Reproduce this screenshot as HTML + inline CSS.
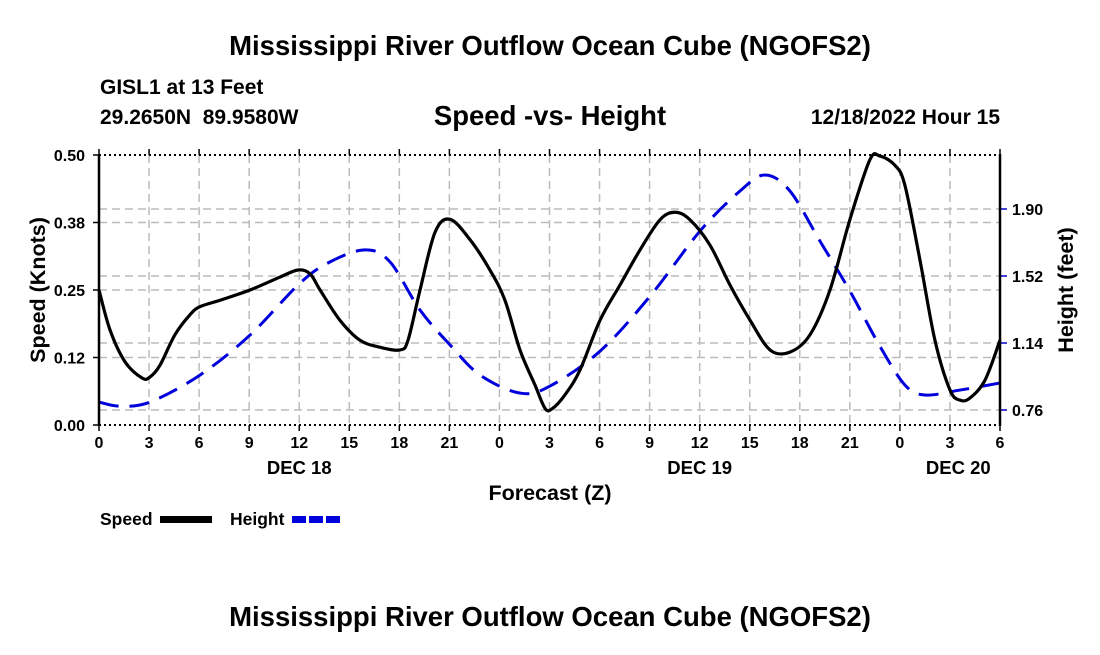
<!DOCTYPE html>
<html><head><meta charset="utf-8"><style>
body{margin:0;background:#fff;}
svg text{font-family:"Liberation Sans",sans-serif;font-weight:bold;fill:#000;white-space:pre;}
</style></head><body>
<svg width="1100" height="650" viewBox="0 0 1100 650">
<text x="550" y="55" font-size="27.5" text-anchor="middle">Mississippi River Outflow Ocean Cube (NGOFS2)</text>
<text x="100" y="94" font-size="21">GISL1 at 13 Feet</text>
<text x="100" y="124" font-size="21" xml:space="preserve">29.2650N  89.9580W</text>
<text x="550" y="125" font-size="27.5" text-anchor="middle">Speed -vs- Height</text>
<text x="1000" y="124" font-size="21" text-anchor="end">12/18/2022 Hour 15</text>
<g id="grid"></g>
<g id="series"></g>
<g id="axes"></g>
<text transform="translate(45,290) rotate(-90)" font-size="21.5" text-anchor="middle">Speed (Knots)</text>
<text transform="translate(1073,290) rotate(-90)" font-size="21.5" text-anchor="middle">Height (feet)</text>
<text x="550" y="500" font-size="21.5" text-anchor="middle">Forecast (Z)</text>
<g>
<text x="100" y="525" font-size="17.5">Speed</text>
<rect x="160" y="516" width="52" height="7" fill="#000"/>
<text x="230" y="525" font-size="17.5">Height</text>
<line x1="292" y1="519.5" x2="343" y2="519.5" stroke="#0000dd" stroke-width="7" stroke-dasharray="14,3"/>
</g>
<text x="550" y="626" font-size="27.5" text-anchor="middle">Mississippi River Outflow Ocean Cube (NGOFS2)</text>
</svg>
<script>
const xTickLabels=["0","3","6","9","12","15","18","21","0","3","6","9","12","15","18","21","0","3","6"];
const dayLabels=["DEC 18","DEC 19","DEC 20"];
const dayHours=[12,36,51.5];
const speedTicks=[0,0.125,0.25,0.375,0.5];
const speedTickLabels=["0.00","0.12","0.25","0.38","0.50"];
const heightTicks=[0.76,1.14,1.52,1.90];
const speedHours=[0,0.66,1.56,2.58,3.06,3.66,4.55,5.45,6.05,7.25,9.05,10.85,11.93,12.65,13.25,14.44,15.64,16.84,18.04,18.52,19.24,20.14,21.04,22.24,23.43,24.33,25.23,26.13,26.73,27.15,27.93,28.83,30.03,31.22,32.42,33.62,34.52,35.42,36.62,37.82,39.02,40.22,41.41,42.61,43.81,45.0,46.2,46.8,47.7,48.3,49.2,50.1,51.0,51.6,52.2,53.1,54];
const speedValues=[0.25,0.176,0.117,0.087,0.089,0.111,0.167,0.204,0.219,0.231,0.25,0.274,0.287,0.28,0.25,0.194,0.157,0.144,0.139,0.157,0.25,0.357,0.381,0.343,0.287,0.231,0.139,0.074,0.031,0.03,0.056,0.102,0.194,0.259,0.324,0.38,0.394,0.38,0.333,0.259,0.194,0.139,0.135,0.167,0.25,0.38,0.491,0.498,0.481,0.444,0.306,0.157,0.065,0.046,0.05,0.083,0.157];
const heightHours=[0,1.26,3.06,6.05,9.05,12.05,13.85,15.95,17.44,19.24,21.04,22.84,25.23,27.03,30.03,33.03,36.02,38.42,39.91,41.41,43.21,45.0,46.8,48.3,49.5,51.6,54];
const heightValues=[0.805,0.782,0.805,0.958,1.185,1.48,1.6,1.668,1.6,1.327,1.129,0.958,0.856,0.896,1.094,1.406,1.775,2.002,2.093,2.002,1.718,1.435,1.122,0.902,0.845,0.873,0.913];

const L=99,R=1000,T=155,B=425,NS="http://www.w3.org/2000/svg";
const xS=h=>L+h*(R-L)/54;
const yS=v=>B-v*(B-T)/0.5;
const yH=h=>410-(h-0.76)*67/0.38;
function mk(tag,attrs,parent,txt){const e=document.createElementNS(NS,tag);for(const k in attrs)e.setAttribute(k,attrs[k]);if(txt!==undefined)e.textContent=txt;parent.appendChild(e);return e;}
const grid=document.getElementById('grid'),axes=document.getElementById('axes'),series=document.getElementById('series');
xTickLabels.forEach((lab,i)=>{const x=xS(i*3);
 if(i>0&&i<18){const g=mk('line',{x1:x,y1:T,x2:x,y2:B,stroke:'#bbb','stroke-width':1.5,'stroke-dasharray':'8,5'},grid);
 
 }
 const t=mk('text',{x:x,y:B+23,'font-size':16,'text-anchor':'middle'},axes,lab);
 
 
 mk('line',{x1:x,y1:B,x2:x,y2:B+6,stroke:'#000','stroke-width':1.5},axes);
 mk('line',{x1:x,y1:T,x2:x,y2:T-6,stroke:'#000','stroke-width':1.5},axes);
});
dayLabels.forEach((lab,i)=>{const t=mk('text',{x:xS(dayHours[i]),y:B+49,'font-size':18.5,'text-anchor':'middle'},axes,lab);
 
 });
speedTicks.forEach((v,i)=>{const y=yS(v);
 if(i>0&&i<4){const g=mk('line',{x1:L,y1:y,x2:R,y2:y,stroke:'#bbb','stroke-width':1.5,'stroke-dasharray':'8,5'},grid);
 
 }
 mk('line',{x1:L-6,y1:y,x2:L,y2:y,stroke:'#000','stroke-width':1.5},axes);
 const t=mk('text',{x:L-14,y:y+6,'font-size':16,'text-anchor':'end'},axes,speedTickLabels[i]);
 
 });
heightTicks.forEach(h=>{const y=yH(h);
 const g=mk('line',{x1:L,y1:y,x2:R,y2:y,stroke:'#bbb','stroke-width':1.5,'stroke-dasharray':'8,5'},grid);
 
 
 mk('line',{x1:R,y1:y,x2:R+7,y2:y,stroke:'#00c','stroke-width':1.5},axes);
 const t=mk('text',{x:R+12,y:y+6,'font-size':16},axes,h.toFixed(2));
 
 });
[[T],[B]].forEach(([y])=>mk('line',{x1:L,y1:y,x2:R,y2:y,stroke:'#000','stroke-width':2,'stroke-dasharray':'2,3'},axes));
mk('line',{x1:L,y1:T-1,x2:L,y2:B+1,stroke:'#000','stroke-width':2.5},axes);
mk('line',{x1:R,y1:T-1,x2:R,y2:B+1,stroke:'#000','stroke-width':2.5},axes);
function path(xs,ys){const p=xs.map((x,i)=>[x,ys[i]]);let d='M'+p[0][0]+','+p[0][1];
 for(let i=0;i<p.length-1;i++){const p0=p[i-1]||p[i],p1=p[i],p2=p[i+1],p3=p[i+2]||p2;
 const c1=[p1[0]+(p2[0]-p0[0])/6,p1[1]+(p2[1]-p0[1])/6],c2=[p2[0]-(p3[0]-p1[0])/6,p2[1]-(p3[1]-p1[1])/6];
 d+=`C${c1[0]},${c1[1]} ${c2[0]},${c2[1]} ${p2[0]},${p2[1]}`;}return d;}
const hp=mk('path',{d:path(heightHours.map(xS),heightValues.map(yH)),fill:'none',stroke:'#0000dd','stroke-width':3,'stroke-dasharray':'20,11'},series);


const sp=mk('path',{d:path(speedHours.map(xS),speedValues.map(yS)),fill:'none',stroke:'#000','stroke-width':3.2,'stroke-linejoin':'round'},series);


</script>
</body></html>
